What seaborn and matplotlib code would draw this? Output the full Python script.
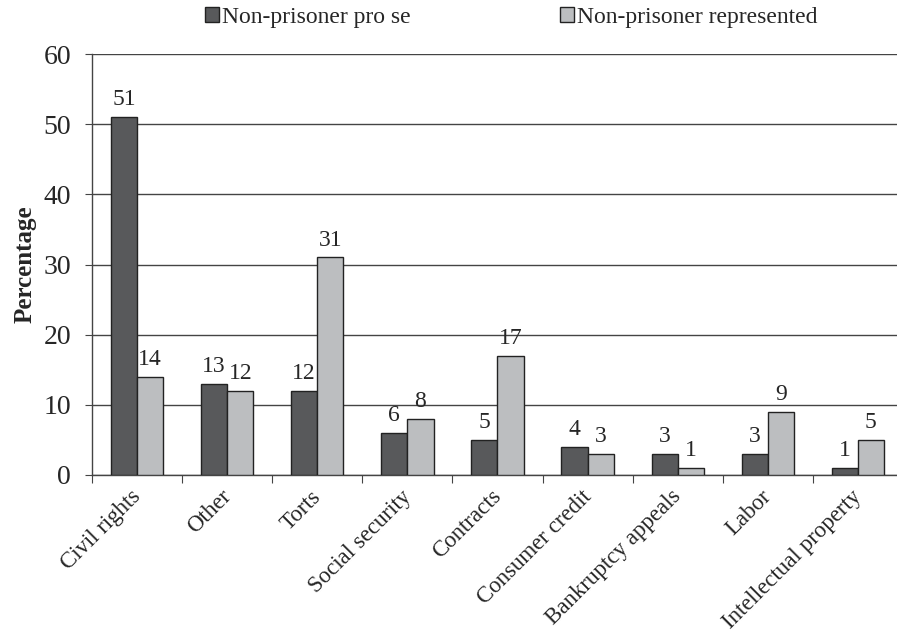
import pandas as pd
import matplotlib
matplotlib.use("Agg")
import matplotlib.pyplot as plt
import matplotlib.transforms as mtransforms
import seaborn as sns

# Case types and shares
categories = ["Civil rights", "Other", "Torts", "Social security", "Contracts",
              "Consumer credit", "Bankruptcy appeals", "Labor", "Intellectual property"]
pro_se = [51, 13, 12, 6, 5, 4, 3, 3, 1]
represented = [14, 12, 31, 8, 17, 3, 1, 9, 5]
series = ["Non-prisoner pro se", "Non-prisoner represented"]

data = pd.DataFrame({
    "Category": categories * 2,
    "Series": [series[0]] * len(categories) + [series[1]] * len(categories),
    "Percentage": pro_se + represented,
})

sns.set_style("white")
plt.rcParams["font.family"] = ["Liberation Serif", "DejaVu Serif"]

fig = plt.figure(figsize=(8.97, 6.34), dpi=100)
ax = fig.add_axes([0.1026, 0.2508, 0.904, 0.664])

sns.barplot(data=data, x="Category", y="Percentage", hue="Series",
            palette=["#58595b", "#bcbec0"], width=0.58, edgecolor="#222222",
            linewidth=1.0, saturation=1, ax=ax, zorder=3)

for c in ax.containers:
    ax.bar_label(c, padding=5, fontsize=17)

ax.set_ylim(0, 60)
ax.set_yticks(range(0, 61, 10))
ax.set_xlim(-0.5, len(categories) - 0.5)
ax.yaxis.grid(True, color="#444444", linewidth=1.0, zorder=0)
ax.set_xlabel("")
ax.set_ylabel("Percentage", fontsize=18, fontweight="bold", labelpad=5)

ax.set_xticks([i - 0.5 for i in range(len(categories) + 1)], minor=False)
ax.set_xticklabels([])
ax.set_xticks(range(len(categories)), minor=True)
ax.set_xticklabels(categories, minor=True, rotation=45, ha="right",
                   rotation_mode="anchor", fontsize=16.5)
ax.tick_params(axis="x", which="major", length=6, direction="out", color="#444444", bottom=True)
ax.tick_params(axis="x", which="minor", length=0, pad=8)
ax.tick_params(axis="y", length=5, direction="out", color="#444444", left=True, labelsize=20, pad=10)

# nudge rotated labels a little to the left
shift = mtransforms.ScaledTranslation(-0.07, 0.0, fig.dpi_scale_trans)
for lab in ax.get_xticklabels(minor=True):
    lab.set_transform(lab.get_transform() + shift)

for s in ["top", "right"]:
    ax.spines[s].set_visible(False)
for s in ["left", "bottom"]:
    ax.spines[s].set_color("#444444")
    ax.spines[s].set_linewidth(1.0)

handles, labels = ax.get_legend_handles_labels()
ax.legend(handles, labels, loc="lower center", bbox_to_anchor=(0.517, 1.04), ncol=2,
          frameon=False, fontsize=17, handlelength=0.6, handleheight=0.6,
          handletextpad=0.15, columnspacing=6.3, borderaxespad=0)

fig.savefig("out.png", dpi=100)
